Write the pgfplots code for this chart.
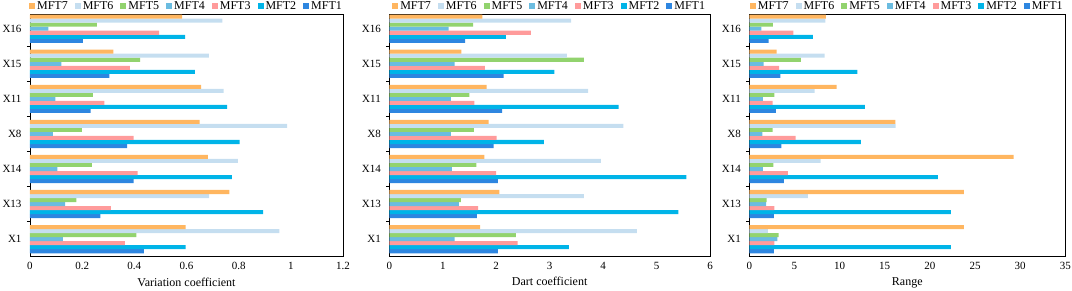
\documentclass[border=0pt]{standalone}
\usepackage{pgfplots}
\usepackage{pgfplotstable}
\pgfplotsset{compat=1.18}
\usepackage{fontspec}
\setmainfont{Liberation Serif}
\definecolor{c1}{HTML}{2E86E0}
\definecolor{c2}{HTML}{00B4E8}
\definecolor{c3}{HTML}{FF9B9B}
\definecolor{c4}{HTML}{6BBCE0}
\definecolor{c5}{HTML}{92D36E}
\definecolor{c6}{HTML}{C5DEF0}
\definecolor{c7}{HTML}{FFB660}

\pgfplotstableread{
y m1 m2 m3 m4 m5 m6 m7
0 0.437 0.597 0.364 0.126 0.408 0.956 0.597
1 0.270 0.894 0.310 0.135 0.178 0.687 0.764
2 0.397 0.774 0.413 0.105 0.237 0.797 0.682
3 0.372 0.804 0.397 0.088 0.199 0.986 0.650
4 0.232 0.756 0.285 0.097 0.241 0.742 0.656
5 0.304 0.632 0.383 0.120 0.422 0.686 0.320
6 0.203 0.595 0.495 0.070 0.256 0.738 0.583
}\tvc

\pgfplotstableread{
y m1 m2 m3 m4 m5 m6 m7
0 2.03 3.36 2.40 1.22 2.37 4.63 1.70
1 1.64 5.41 1.66 1.30 1.34 3.64 2.06
2 2.03 5.56 2.00 1.17 1.63 3.96 1.78
3 1.95 2.89 2.01 1.15 1.58 4.38 1.86
4 2.11 4.29 1.59 1.15 1.50 3.72 1.82
5 2.14 3.09 1.79 1.22 3.64 3.32 1.35
6 1.42 2.18 2.65 1.11 1.57 3.40 1.74
}\tdc

\pgfplotstableread{
y m1 m2 m3 m4 m5 m6 m7
0 2.73 22.33 2.77 3.10 3.25 2.07 23.77
1 2.73 22.33 2.77 1.85 1.92 6.50 23.77
2 3.84 20.89 4.28 1.51 2.66 7.90 29.27
3 3.54 12.37 5.13 1.44 2.58 16.20 16.17
4 2.95 12.81 2.58 1.51 2.77 7.24 9.67
5 3.43 11.96 3.29 1.59 5.72 8.34 3.03
6 2.14 7.05 4.87 1.33 2.62 8.42 8.49
}\trg

\pgfplotsset{panel/.style={
  scale only axis, height=242.7pt,
  xbar, bar width=0.115,
  ymin=-0.5, ymax=6.42, xmin=0,
  enlarge x limits=false, enlarge y limits=false,
  ytick={0,...,6}, yticklabels={X1,X13,X14,X8,X11,X15,X16},
  extra y ticks={0.5,1.5,2.5,3.5,4.5,5.5},
  extra y tick labels={},
  extra y tick style={major tick length=3pt, tick align=outside, grid=none,
     tick style={black, line width=0.8pt}},
  major tick length=0pt,
  ytick pos=left, xtick pos=bottom,
  axis line style={line width=0.8pt},
  tick label style={font=\fontsize{11}{13}\selectfont},
  yticklabel style={xshift=-5pt},
  xticklabel style={yshift=-2pt},
  /pgf/number format/assume math mode=true,
  label style={font=\fontsize{12}{14}\selectfont},
  xlabel style={yshift=-1pt},
  legend style={at={(0.5,1)}, anchor=south, draw=none, fill=none, legend columns=-1,
    font=\fontsize{12}{13}\selectfont, inner sep=0pt, yshift=1pt,
    /tikz/every even column/.append style={column sep=5pt}},
  legend image code/.code={\fill[##1,draw=none] (0pt,-3pt) rectangle (6pt,3pt);},
  reverse legend,
}}

\newcommand{\bars}[1]{%
  \addplot[fill=c1, draw=none, bar shift=-0.345] table[x=m1,y=y]{#1};
  \addlegendentry{MFT1}
  \addplot[fill=c2, draw=none, bar shift=-0.230] table[x=m2,y=y]{#1};
  \addlegendentry{MFT2}
  \addplot[fill=c3, draw=none, bar shift=-0.115] table[x=m3,y=y]{#1};
  \addlegendentry{MFT3}
  \addplot[fill=c4, draw=none, bar shift=0] table[x=m4,y=y]{#1};
  \addlegendentry{MFT4}
  \addplot[fill=c5, draw=none, bar shift=0.115] table[x=m5,y=y]{#1};
  \addlegendentry{MFT5}
  \addplot[fill=c6, draw=none, bar shift=0.230] table[x=m6,y=y]{#1};
  \addlegendentry{MFT6}
  \addplot[fill=c7, draw=none, bar shift=0.345] table[x=m7,y=y]{#1};
  \addlegendentry{MFT7}
}

\begin{document}
\begin{tikzpicture}
\path[use as bounding box] (0,0) rectangle (1072pt,291pt);
\begin{axis}[panel, at={(30pt,34.3pt)}, anchor=south west, width=313pt,
  xmax=1.2, xtick={0,0.2,0.4,0.6,0.8,1,1.2}, xlabel={Variation coefficient}]
\bars{\tvc}
\end{axis}
\begin{axis}[panel, at={(389.3pt,34.3pt)}, anchor=south west, width=320.7pt,
  xmax=6, xtick={0,1,2,3,4,5,6}, xlabel={Dart coefficient}]
\bars{\tdc}
\end{axis}
\begin{axis}[panel, at={(749.3pt,34.3pt)}, anchor=south west, width=316pt,
  xmax=35, xtick={0,5,10,15,20,25,30,35}, xlabel={Range}]
\bars{\trg}
\end{axis}
\end{tikzpicture}
\end{document}
